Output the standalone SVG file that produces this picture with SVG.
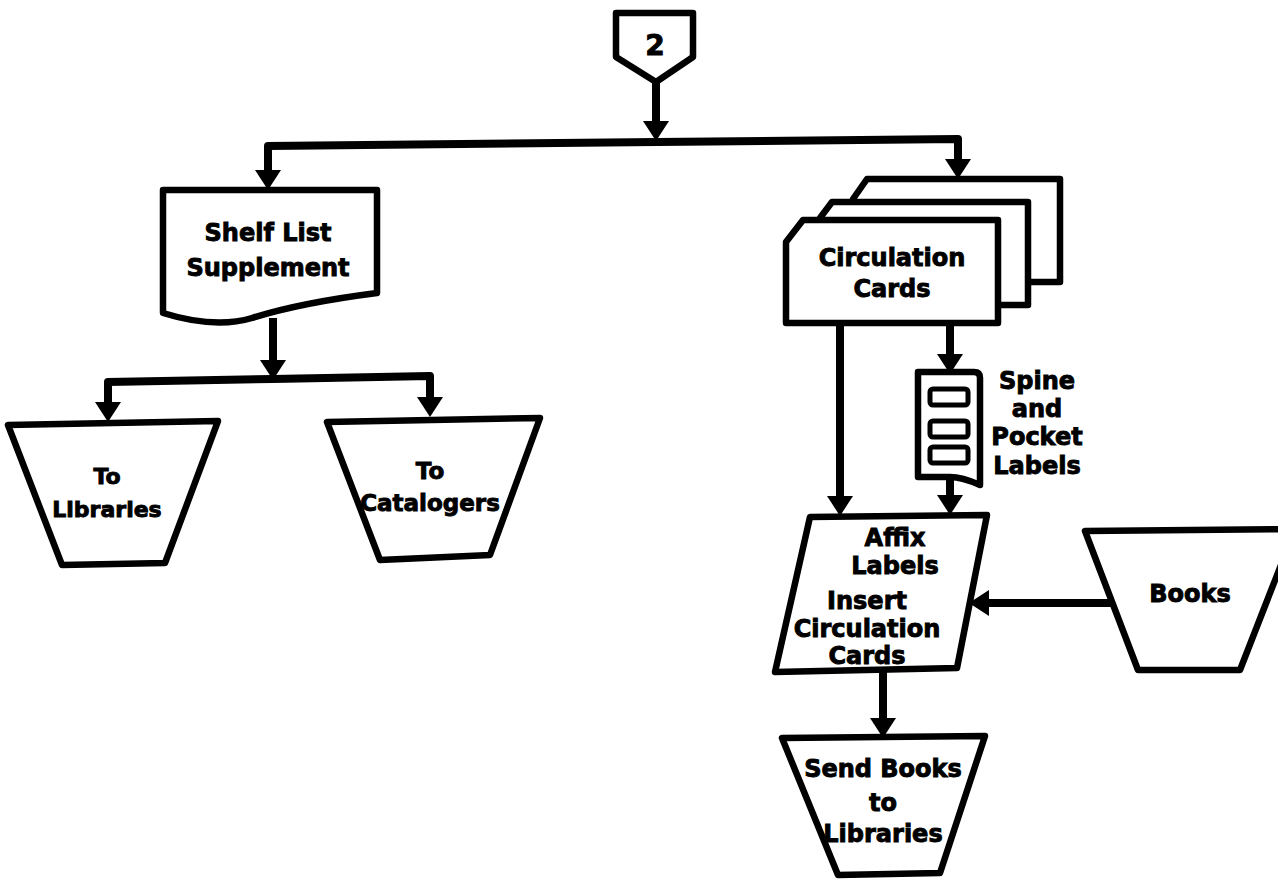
<svg xmlns="http://www.w3.org/2000/svg" width="1278" height="880" viewBox="0 0 1278 880">
<style>
.shape{fill:#fff;stroke:#000;stroke-width:6.5;stroke-linejoin:round}
.inner{fill:#fff;stroke:#000;stroke-width:5}
.conn{fill:none;stroke:#000;stroke-width:8;stroke-linejoin:round}
.lbl{font-family:"DejaVu Sans",sans-serif;font-weight:bold;font-size:24px;text-anchor:middle;fill:#000;stroke:#000;stroke-width:0.9}
.sm{font-size:22px}
</style>
<defs>
<marker id="arr" markerUnits="userSpaceOnUse" markerWidth="22" markerHeight="26" refX="8" refY="13" orient="auto">
<path d="M0,0 L20,13 L0,26 z" fill="#000"/>
</marker>
</defs>
<rect width="1278" height="880" fill="#fff"/>

<g id="connectors">
<path class="conn" d="M656,82 L656,129" marker-end="url(#arr)"/>
<path class="conn" d="M657,142 L268,146 L268,178" marker-end="url(#arr)"/>
<path class="conn" d="M657,142 L958,139 L958,167" marker-end="url(#arr)"/>
<path class="conn" d="M273,318 L273,368" marker-end="url(#arr)"/>
<path class="conn" d="M273,379 L108,382 L108,410" marker-end="url(#arr)"/>
<path class="conn" d="M273,379 L430,376 L430,405" marker-end="url(#arr)"/>
<path class="conn" d="M840,323 L840,504" marker-end="url(#arr)"/>
<path class="conn" d="M950,323 L950,362" marker-end="url(#arr)"/>
<path class="conn" d="M950,478 L950,503" marker-end="url(#arr)"/>
<path class="conn" d="M1112,603 L981,603" marker-end="url(#arr)"/>
<path class="conn" d="M883,670 L883,726" marker-end="url(#arr)"/>
</g>

<g id="offpage-2">
<polygon class="shape" points="616,13 693,13 693,57 656,82 616,57"/>
<text class="lbl" x="655" y="55" style="font-size:28px">2</text>
</g>

<g id="shelf-list-supplement">
<path class="shape" d="M163,190 L377,190 L377,293 C330,299 290,306 252,318 C222,327 192,322 163,313 Z"/>
<text class="lbl" x="268" y="241">Shelf List</text>
<text class="lbl" x="268" y="276">Supplement</text>
</g>

<g id="to-libraries">
<polygon class="shape" points="8,425 218,421 165,563 62,565"/>
<text class="lbl sm" x="107" y="484">To</text>
<text class="lbl sm" x="107" y="517">Libraries</text>
</g>

<g id="to-catalogers">
<polygon class="shape" points="327,422 540,418 490,555 380,560"/>
<text class="lbl" x="430" y="479" style="font-size:23px">To</text>
<text class="lbl" x="430" y="511" style="font-size:23px">Catalogers</text>
</g>

<g id="circulation-cards">
<path class="shape" d="M853,199 L867,179 L1060,179 L1060,282 L853,282 Z"/>
<path class="shape" d="M820,218 L832,202 L1028,202 L1028,305 L820,305 Z"/>
<path class="shape" d="M786,242 L803,220 L998,220 L998,323 L786,323 Z"/>
<text class="lbl" x="892" y="266">Circulation</text>
<text class="lbl" x="892" y="297">Cards</text>
</g>

<g id="spine-pocket-labels">
<path class="shape" d="M918,372 L974,372 Q980,372 980,378 L980,485 Q962,477 950,477 L918,477 Z"/>
<rect class="inner" x="930" y="389" width="38" height="16" rx="3"/>
<rect class="inner" x="930" y="421" width="38" height="16" rx="3"/>
<rect class="inner" x="930" y="447" width="38" height="16" rx="3"/>
<text class="lbl" x="1037" y="389">Spine</text>
<text class="lbl" x="1037" y="417">and</text>
<text class="lbl" x="1037" y="445">Pocket</text>
<text class="lbl" x="1037" y="474">Labels</text>
</g>

<g id="affix-labels">
<polygon class="shape" points="810,517 987,515 957,668 775,672"/>
<text class="lbl" x="895" y="546">Affix</text>
<text class="lbl" x="895" y="574">Labels</text>
<text class="lbl" x="867" y="609">Insert</text>
<text class="lbl" x="867" y="637">Circulation</text>
<text class="lbl" x="867" y="664">Cards</text>
</g>

<g id="books">
<polygon class="shape" points="1085,531 1295,529 1240,670 1138,670"/>
<text class="lbl" x="1190" y="602">Books</text>
</g>

<g id="send-books">
<polygon class="shape" points="782,738 985,736 940,873 838,875"/>
<text class="lbl" x="883" y="777">Send Books</text>
<text class="lbl" x="883" y="811">to</text>
<text class="lbl" x="883" y="842">Libraries</text>
</g>
</svg>
